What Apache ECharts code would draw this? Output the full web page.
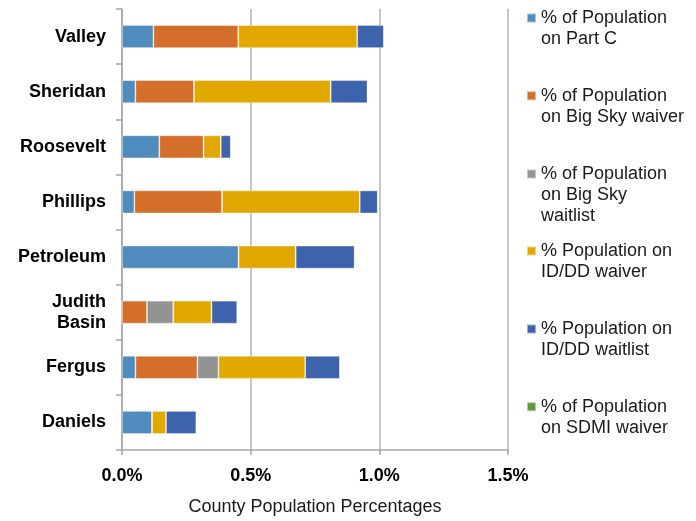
<!DOCTYPE html>
<html>
<head>
<meta charset="utf-8">
<script src="https://cdn.jsdelivr.net/npm/echarts@6/dist/echarts.min.js"></script>
<style>html,body{margin:0;padding:0;background:#fff}#c{width:696px;height:521px}</style>
</head>
<body>
<div id="c"></div>
<script>
// Categories (bottom to top)
const counties = ['Daniels', 'Fergus', 'Judith\nBasin', 'Petroleum', 'Phillips', 'Roosevelt', 'Sheridan', 'Valley'];
// Values in percent of county population
const partC        = [0.117, 0.052, 0,     0.453, 0.048, 0.145, 0.052, 0.122];
const bigSkyWaiver = [0,     0.241, 0.097, 0,     0.341, 0.172, 0.228, 0.330];
const bigSkyWait   = [0,     0.082, 0.102, 0,     0,     0,     0,     0];
const iddWaiver    = [0.054, 0.337, 0.149, 0.222, 0.535, 0.067, 0.531, 0.462];
const iddWait      = [0.118, 0.135, 0.100, 0.229, 0.070, 0.039, 0.143, 0.104];
const sdmiWaiver   = [0,     0,     0,     0,     0,     0,     0,     0];
const seriesNames = [
  '% of Population\non Part C',
  '% of Population\non Big Sky waiver',
  '% of Population\non Big Sky\nwaitlist',
  '% Population on\nID/DD waiver',
  '% Population on\nID/DD waitlist',
  '% of Population\non SDMI waiver'
];
const xTicks = [0, 0.5, 1.0, 1.5];

const colors = ['#4f8bbd', '#d36f2b', '#939393', '#e1a900', '#3d63ad', '#5f9a3a'];
const seriesData = [partC, bigSkyWaiver, bigSkyWait, iddWaiver, iddWait, sdmiWaiver];

const FF = '"Liberation Sans", Arial, sans-serif';
const FS = 18;
const LH = 21;
const SQ = 9;

const chart = echarts.init(document.getElementById('c'), null, {renderer: 'canvas'});

const legendCenters = [18, 95.7, 174, 251, 329, 406.7];
const legends = seriesNames.map((n, i) => {
  const lines = n.split('\n').length;
  // icon box tall enough that the square sits beside the first text line
  const H = 2 * (SQ / 2 + (lines - 1) * LH / 2);
  return {
    data: [{name: n, icon: 'path://M0,0H' + SQ + 'V' + SQ + 'H0Z M0,' + H + 'L0,' + H}],
    left: 526,
    top: legendCenters[i] - (LH / 2),
    padding: 0,
    orient: 'vertical',
    itemWidth: SQ,
    itemHeight: H,
    itemGap: 0,
    selectedMode: false,
    textStyle: {fontFamily: FF, fontSize: FS, lineHeight: LH, color: '#1a1a1a'}
  };
});

chart.setOption({
  animation: false,
  color: colors,
  textStyle: {fontFamily: FF},
  grid: {left: 122, right: 188, top: 9, bottom: 67, containLabel: false},
  legend: legends,
  xAxis: {
    type: 'value', min: 0, max: 1.5, interval: 0.5,
    name: 'County Population Percentages', nameLocation: 'middle', nameGap: 48,
    nameTextStyle: {fontFamily: FF, fontSize: FS, color: '#1a1a1a'},
    axisLine: {show: true, lineStyle: {color: '#a6a6a6', width: 1.5}},
    axisTick: {show: true, length: 5, lineStyle: {color: '#a6a6a6', width: 1.5}},
    splitLine: {show: true, lineStyle: {color: '#b3b3b3', width: 1.5}},
    axisLabel: {
      margin: 17, fontFamily: FF, fontSize: FS, fontWeight: 'bold', color: '#000',
      formatter: v => xTicks.indexOf(v) >= 0 ? v.toFixed(1) + '%' : ''
    }
  },
  yAxis: {
    type: 'category', data: counties,
    axisLine: {show: true, lineStyle: {color: '#a6a6a6', width: 1.5}},
    axisTick: {show: true, length: 6, lineStyle: {color: '#a6a6a6', width: 1.5}},
    axisLabel: {margin: 16, fontFamily: FF, fontSize: FS, fontWeight: 'bold', color: '#000', lineHeight: LH}
  },
  series: seriesNames.map((n, i) => ({
    name: n, type: 'bar', stack: 'total', barWidth: 23,
    data: seriesData[i],
    itemStyle: {color: colors[i], borderColor: 'rgba(255,255,255,0.5)', borderWidth: 0.8}
  }))
});
</script>
</body>
</html>
